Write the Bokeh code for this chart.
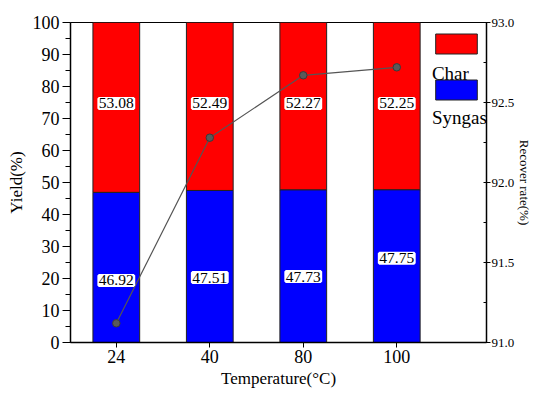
from bokeh.plotting import figure
from bokeh.models import (Range1d, LinearAxis, FixedTicker, ColumnDataSource, LabelSet,
                          Legend, LegendItem, Label, NumeralTickFormatter)
from bokeh.embed import file_html
from bokeh.resources import INLINE

# ---- data ----
temps = ["24", "40", "80", "100"]
syngas = [46.92, 47.51, 47.73, 47.75]
char = [53.08, 52.49, 52.27, 52.25]
recover = [91.12, 92.28, 92.67, 92.72]
syngas_label_y = [19.4, 20.3, 20.6, 26.3]
char_label_y = [74.7, 74.7, 74.7, 74.7]

FONT = "Liberation Serif"

xs = list(range(1, len(temps) + 1))
src = ColumnDataSource(dict(
    x=xs, syngas=syngas, char=char, recover=recover,
    syn_txt=["%.2f" % v for v in syngas], char_txt=["%.2f" % v for v in char],
    syn_y=syngas_label_y, char_y=char_label_y,
))

p = figure(width=535, height=394, output_backend="svg", toolbar_location=None,
           x_range=Range1d(0.51, 4.96), y_range=Range1d(0, 100),
           min_border_left=70, min_border_right=42, min_border_top=22, min_border_bottom=52)
p.xgrid.visible = False
p.ygrid.visible = False
p.outline_line_color = "black"
p.outline_line_width = 1
p.background_fill_color = "white"

r_syn, r_char = p.vbar_stack(["syngas", "char"], x="x", width=0.5, source=src,
                             fill_color=["#0000ff", "#ff0000"], line_color="#222222",
                             line_width=1)

# labels with white background
for col, ycol in (("char_txt", "char_y"), ("syn_txt", "syn_y")):
    ls = LabelSet(x="x", y=ycol, text=col, source=src, text_align="center",
                  text_baseline="middle", text_font=FONT, text_font_size="15.5px",
                  text_color="black", background_fill_color="white",
                  border_line_color="white", border_line_width=3)
    p.add_layout(ls)

# recovery axis
p.extra_y_ranges = {"rec": Range1d(91.0, 93.0)}
p.line("x", "recover", source=src, y_range_name="rec", line_color="#555555", line_width=1.2)
p.scatter("x", "recover", source=src, y_range_name="rec", size=7.5,
          fill_color="#5a5a5a", line_color="#3a3a3a")


def style_axis(ax):
    ax.axis_label_text_font = FONT
    ax.axis_label_text_font_style = "normal"
    ax.axis_label_text_color = "black"
    ax.major_label_text_font = FONT
    ax.major_label_text_color = "black"
    ax.axis_line_color = "black"
    ax.major_tick_line_color = "black"
    ax.minor_tick_line_color = "black"
    ax.axis_line_width = 1.5


# left axis
ya = p.yaxis[0]
style_axis(ya)
ya.ticker = FixedTicker(ticks=list(range(0, 101, 10)),
                        minor_ticks=list(range(5, 100, 10)))
ya.axis_label = "Yield(%)"
ya.axis_label_text_font_size = "17px"
ya.axis_label_standoff = 4
ya.major_label_text_font_size = "18px"
ya.major_label_standoff = 3
ya.major_tick_out = 8
ya.major_tick_in = 0
ya.minor_tick_out = 5
ya.minor_tick_in = 0

# bottom axis
xa = p.xaxis[0]
style_axis(xa)
xa.ticker = FixedTicker(ticks=xs)
xa.major_label_overrides = {x: t for x, t in zip(xs, temps)}
xa.axis_label = "Temperature(°C)"
xa.axis_label_text_font_size = "17px"
xa.axis_label_standoff = 3
xa.major_label_text_font_size = "18px"
xa.major_label_standoff = 2
xa.major_tick_out = 5
xa.major_tick_in = 0
xa.minor_tick_out = 0
xa.minor_tick_in = 0

# right axis
ra = LinearAxis(y_range_name="rec",
                ticker=FixedTicker(ticks=[91.0, 91.5, 92.0, 92.5, 93.0],
                                   minor_ticks=[91.25, 91.75, 92.25, 92.75]),
                formatter=NumeralTickFormatter(format="0.0"))
style_axis(ra)
ra.axis_label = "Recover rate(%)"
ra.axis_label_text_font_size = "13px"
ra.axis_label_standoff = 0
ra.major_label_text_font_size = "13px"
ra.major_label_standoff = 1
ra.major_tick_out = 4
ra.major_tick_in = 3
ra.minor_tick_out = 0
ra.minor_tick_in = 3
p.add_layout(ra, "right")

# legend: swatches, with names placed beneath each swatch
legend = Legend(items=[LegendItem(label=" ", renderers=[r_char]),
                       LegendItem(label=" ", renderers=[r_syn])],
                location=(360, 240), orientation="vertical",
                glyph_width=52, glyph_height=25, label_height=25, spacing=21,
                padding=0, margin=0, label_standoff=0, label_width=0,
                label_text_font_size="1px",
                border_line_alpha=0, background_fill_alpha=0)
p.add_layout(legend)
for txt, yv in (("Char", 84.0), ("Syngas", 70.3)):
    p.add_layout(Label(x=4.376, y=yv, text=txt, text_font=FONT, text_font_size="19px",
                       text_baseline="alphabetic", text_align="left", text_color="black"))

open("out.html", "w").write(file_html(p, INLINE))
